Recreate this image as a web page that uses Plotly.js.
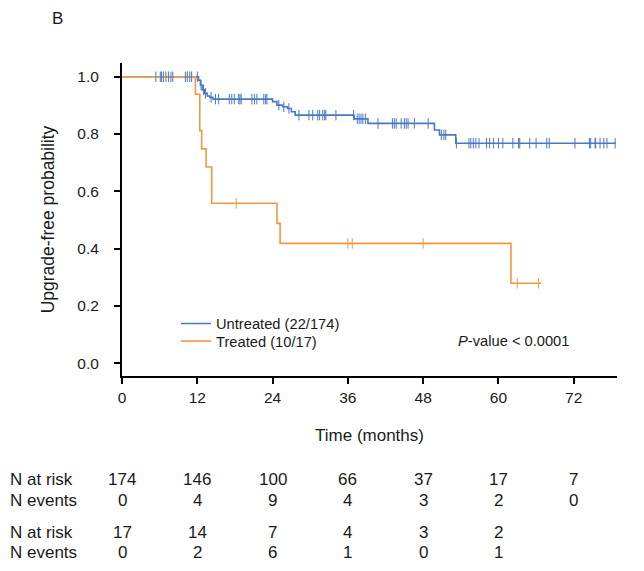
<!DOCTYPE html>
<html>
<head>
<meta charset="utf-8">
<script src="https://cdn.plot.ly/plotly-3.0.1.min.js"></script>
<style>html,body{margin:0;padding:0;background:#fff;}#chart{width:644px;height:571px;}</style>
</head>
<body>
<div id="chart"></div>
<script>
// ---- Data ----
// Untreated: event times (months) and survival after each step
const untreatedTimes = [12.2, 12.5, 12.8, 13.1, 13.6, 14.0, 14.5, 24.0, 24.7, 25.6, 26.4, 27.0, 27.6, 37.0, 39.2, 49.8, 50.6, 53.2];
const untreatedSurv  = [0.988, 0.971, 0.954, 0.942, 0.933, 0.928, 0.922, 0.913, 0.901, 0.895, 0.889, 0.878, 0.866, 0.853, 0.837, 0.814, 0.797, 0.768];
const untreatedEnd = 78.7;
const untreatedCensor = [5.4, 6.1, 6.3, 6.6, 7.0, 7.4, 7.8, 8.1, 10.1, 10.4, 10.8, 11.1, 12.0,
  12.6, 13.0, 13.3, 14.2,
  14.9, 15.4, 17.1, 17.5, 17.9, 18.6, 18.8, 19.0, 20.7, 21.1, 21.5, 22.6, 22.9, 23.1,
  25.0, 25.8, 26.6,
  28.2, 29.8, 30.4, 31.2, 31.5, 32.0, 32.3, 32.5, 34.1, 36.9,
  37.5, 37.8, 38.1, 38.4, 38.8,
  40.8, 43.1, 43.4, 43.7, 44.5, 45.0, 45.3, 45.6, 46.6, 48.8,
  50.9, 51.3, 51.6,
  53.3, 55.3, 55.6, 56.0, 56.4, 56.9, 58.1, 58.6, 59.2, 60.0, 60.7, 62.3, 63.2, 63.4, 65.0, 66.0, 67.7, 68.1,
  72.2, 74.5, 74.7, 75.4, 75.5, 76.2, 76.8, 77.3, 78.6];

// Treated
const treatedTimes = [11.7, 12.4, 12.7, 13.4, 14.3, 24.7, 25.2, 62.0];
const treatedSurv  = [0.939, 0.812, 0.748, 0.685, 0.558, 0.488, 0.418, 0.279];
const treatedEnd = 66.8;
const treatedCensor = [18.2, 36.0, 36.7, 48.0, 63.0, 66.4];

// Axis ticks
const xTicks = [0, 12, 24, 36, 48, 60, 72];
const yTicks = [0.0, 0.2, 0.4, 0.6, 0.8, 1.0];

// Risk table
const riskTimes = [0, 12, 24, 36, 48, 60, 72];
const untreatedAtRisk = [174, 146, 100, 66, 37, 17, 7];
const untreatedEvents = [0, 4, 9, 4, 3, 2, 0];
const treatedAtRisk = [17, 14, 7, 4, 3, 2];
const treatedEvents = [0, 2, 6, 1, 0, 1];

const groupNames = ['Untreated (22/174)', 'Treated (10/17)'];
const pText = '<i>P</i>-value &lt; 0.0001';
const panelLabel = 'B';

// ---- Build ----
const BLUE = '#4a78c2';
const ORANGE = '#f09a3e';
const FONT = 'Liberation Sans, Arial, sans-serif';
const TXT = '#1a1a1a';

function stepXY(times, surv, end) {
  const x = [0].concat(times, [end]);
  const y = [1].concat(surv, [surv[surv.length - 1]]);
  return {x, y};
}
function survAt(times, surv, t) {
  let s = 1;
  for (let i = 0; i < times.length; i++) if (times[i] <= t) s = surv[i];
  return s;
}

const u = stepXY(untreatedTimes, untreatedSurv, untreatedEnd);
const tr = stepXY(treatedTimes, treatedSurv, treatedEnd);

const traces = [
  {x: u.x, y: u.y, mode: 'lines', line: {shape: 'hv', color: BLUE, width: 1.6}, name: groupNames[0], legend: 'legend'},
  {x: tr.x, y: tr.y, mode: 'lines', line: {shape: 'hv', color: ORANGE, width: 1.6}, name: groupNames[1], legend: 'legend2'},
  {x: untreatedCensor, y: untreatedCensor.map(t => survAt(untreatedTimes, untreatedSurv, t)), mode: 'markers',
   marker: {symbol: 'line-ns-open', size: 7.5, color: BLUE, line: {color: BLUE, width: 1}}, showlegend: false, hoverinfo: 'skip'},
  {x: treatedCensor, y: treatedCensor.map(t => survAt(treatedTimes, treatedSurv, t)), mode: 'markers',
   marker: {symbol: 'line-ns-open', size: 7.5, color: ORANGE, line: {color: ORANGE, width: 1}}, showlegend: false, hoverinfo: 'skip'}
];

const L = 122, R = 617, T = 63, B = 376, W = 644, H = 571;
const pw = R - L, ph = B - T;
const px2x = p => (p - L) / pw;
const py2y = p => (B - p) / ph;

const annotations = [];
annotations.push({text: panelLabel, xref: 'paper', yref: 'paper', x: px2x(50), y: py2y(19), xanchor: 'left', yanchor: 'middle', showarrow: false, font: {family: FONT, size: 17, color: TXT}});
annotations.push({text: pText, xref: 'paper', yref: 'paper', x: px2x(456), y: py2y(341), xanchor: 'left', yanchor: 'middle', showarrow: false, font: {family: FONT, size: 14.7, color: TXT}});

const rows = [
  {label: 'N at risk', vals: untreatedAtRisk, y: 480},
  {label: 'N events', vals: untreatedEvents, y: 500},
  {label: 'N at risk', vals: treatedAtRisk, y: 532},
  {label: 'N events', vals: treatedEvents, y: 552}
];
rows.forEach(r => {
  annotations.push({text: r.label, xref: 'paper', yref: 'paper', x: px2x(8), y: py2y(r.y), xanchor: 'left', yanchor: 'middle', showarrow: false, font: {family: FONT, size: 17, color: TXT}});
  r.vals.forEach((v, i) => {
    annotations.push({text: String(v), xref: 'x', yref: 'paper', x: riskTimes[i], y: py2y(r.y), xanchor: 'center', yanchor: 'middle', showarrow: false, font: {family: FONT, size: 17, color: TXT}});
  });
});

const legendFont = {family: FONT, size: 14.7, color: TXT};
const layout = {
  width: W, height: H,
  margin: {l: L, r: W - R, t: T, b: H - B, pad: 0},
  paper_bgcolor: '#fff', plot_bgcolor: '#fff',
  font: {family: FONT, size: 15, color: TXT},
  showlegend: true,
  legend: {x: px2x(176), y: py2y(307.5), xanchor: 'left', yanchor: 'top', bgcolor: 'rgba(0,0,0,0)', font: legendFont},
  legend2: {x: px2x(176), y: py2y(325), xanchor: 'left', yanchor: 'top', bgcolor: 'rgba(0,0,0,0)', font: legendFont},
  xaxis: {
    range: [0, 78.9], tickvals: xTicks, ticktext: xTicks.map(String),
    ticks: 'outside', ticklen: 6, tickwidth: 2, tickcolor: '#000',
    showline: true, linewidth: 2, linecolor: '#000', showgrid: false, zeroline: false,
    tickfont: {family: FONT, size: 15.5, color: TXT},
    title: {text: 'Time (months)', font: {family: FONT, size: 17, color: TXT}, standoff: 25}
  },
  yaxis: {
    range: [-0.045, 1.048], tickvals: yTicks, ticktext: yTicks.map(v => v.toFixed(1)),
    ticks: 'outside', ticklen: 6, tickwidth: 2, tickcolor: '#000',
    showline: true, linewidth: 2, linecolor: '#000', showgrid: false, zeroline: false,
    tickfont: {family: FONT, size: 15.5, color: TXT}, ticklabelstandoff: 12,
    title: {text: 'Upgrade-free probability', font: {family: FONT, size: 17.5, color: TXT}, standoff: 18}
  },
  annotations: annotations
};

Plotly.newPlot('chart', traces, layout, {displayModeBar: false, staticPlot: true});
</script>
</body>
</html>
